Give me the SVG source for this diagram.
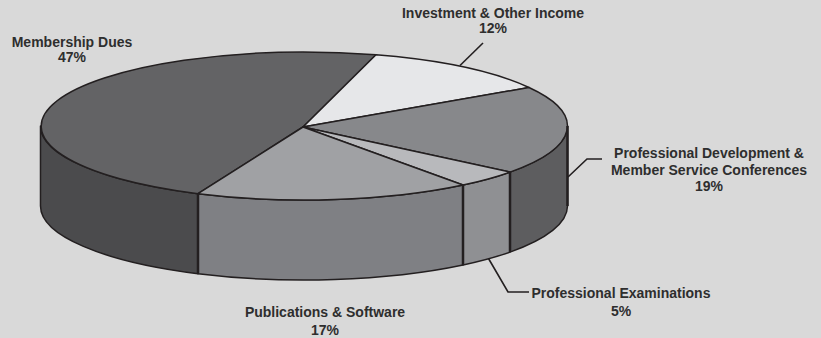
<svg xmlns="http://www.w3.org/2000/svg" width="821" height="338" viewBox="0 0 821 338">
<style>
.o{stroke:#231f20;stroke-width:1.5;stroke-linejoin:round}
.v{stroke:#231f20;stroke-width:2.5;fill:none}
.l{stroke:#231f20;stroke-width:1.6;fill:none}
text{font-family:"Liberation Sans",Arial,sans-serif;font-weight:bold;font-size:14px;fill:#2e2e2e;text-anchor:middle}
</style>
<rect width="821" height="338" fill="#d9d9d9"/>
<g id="membership">
<path class="o" fill="#4b4b4d" d="M40.5,126 A263.5,74 0 0 0 198,193.7 L198,273.7 A263.5,74 0 0 1 40.5,206 Z"/>
<path class="o" fill="#636365" d="M303,127 L376,54.8 A263.5,74 0 0 0 198,193.7 Z"/>
<text x="72" y="47">Membership Dues</text>
<text x="72" y="62">47%</text>
</g>
<g id="investment">
<path class="o" fill="#e6e7e9" d="M303,127 L529,87.5 A263.5,74 0 0 0 376,54.8 Z"/>
<text x="493" y="18">Investment &amp; Other Income</text>
<text x="493" y="33">12%</text>
</g>
<g id="profdev">
<path class="o" fill="#5d5d5f" d="M510,172.1 A263.5,74 0 0 0 567.5,126 L567.5,206 A263.5,74 0 0 1 510,252.1 Z"/>
<path class="o" fill="#87888b" d="M303,127 L510,172.1 A263.5,74 0 0 0 529,87.5 Z"/>
<text x="709" y="158">Professional Development &amp;</text>
<text x="709" y="175">Member Service Conferences</text>
<text x="709" y="191">19%</text>
</g>
<g id="profexam">
<path class="o" fill="#8f9093" d="M463,185 A263.5,74 0 0 0 510,172.1 L510,252.1 A263.5,74 0 0 1 463,265 Z"/>
<path class="o" fill="#b8b9bc" d="M303,127 L463,185 A263.5,74 0 0 0 510,172.1 Z"/>
<text x="621" y="298">Professional Examinations</text>
<text x="621" y="316">5%</text>
</g>
<g id="publications">
<path class="o" fill="#7f8084" d="M198,193.7 A263.5,74 0 0 0 463,185 L463,265 A263.5,74 0 0 1 198,273.7 Z"/>
<path class="o" fill="#a0a1a4" d="M303,127 L198,193.7 A263.5,74 0 0 0 463,185 Z"/>
<text x="325" y="317">Publications &amp; Software</text>
<text x="325" y="335">17%</text>
</g>
<g id="connectors">
<path class="v" d="M198,193.7 V273.7 M463,185 V265 M510,172.1 V252.1 M567.5,126 V206"/>
<path class="l" d="M483,43 L460,65.5"/>
<path class="l" d="M602,159 H587 L568,177"/>
<path class="l" d="M529,292 H508 L488.5,258.5"/>
</g>
</svg>
